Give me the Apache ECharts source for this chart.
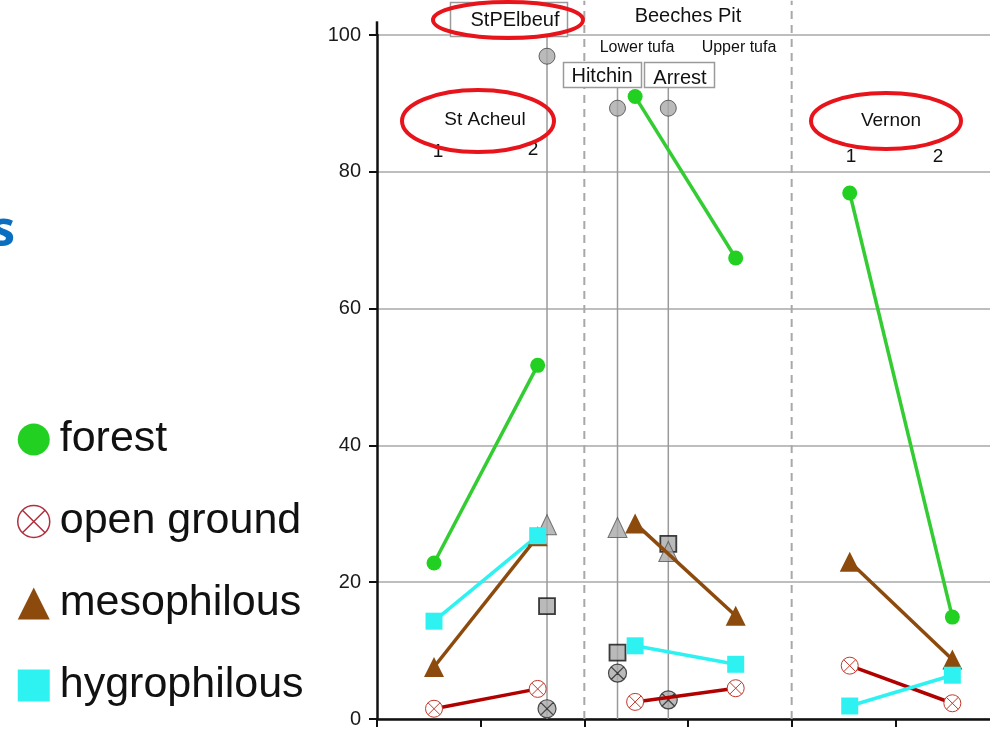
<!DOCTYPE html>
<html><head><meta charset="utf-8">
<script src="https://cdn.jsdelivr.net/npm/echarts@6/dist/echarts.min.js"></script>
<style>html,body{margin:0;padding:0;background:#fff}#c{width:990px;height:730px}</style>
</head><body><div id="c"></div>
<script>
// ---- data ----
const seriesNames = ['forest', 'open ground', 'mesophilous', 'hygrophilous'];
// sample positions: St Acheul 1, 2 | Beeches Pit lower, upper tufa | Vernon 1, 2
const sampleX = [0.55, 1.55, 2.49, 3.46, 4.56, 5.55];
const forest = [22.8, 51.7, 91.0, 67.4, 76.9, 14.9];
const openGround = [1.5, 4.4, 2.5, 4.5, 7.8, 2.3];
const mesophilous = [7.6, 26.7, 28.6, 15.1, 23.0, 8.7];
const hygrophilous = [14.3, 26.8, 10.7, 8.0, 1.9, 6.4];
// comparison sites (grey markers)
const compSites = ['StPElbeuf', 'Hitchin', 'Arrest'];
const compX = [1.64, 2.32, 2.81];
const compTop = [99.7, 92.4, 92.4];
const compForest = [96.9, 89.3, 89.3];
const compOpen = [1.5, 6.7, 2.8];
const compMeso = [28.4, 28.0, 24.5];
const compHygro = [16.5, 9.7, 25.6];
const dividerX = [2, 4];
const siteNames = ['St Acheul', 'Beeches Pit', 'Vernon'];
const subLabels = ['Lower tufa', 'Upper tufa'];
const sampleNums = ['1', '2'];
const titleFragment = 's';

// ---- styles ----
const crossCircle = 'path://M0,-10A10,10,0,1,1,0,10A10,10,0,1,1,0,-10ZM-7.07,-7.07L7.07,7.07M7.07,-7.07L-7.07,7.07';
const FONT = 'Liberation Sans, Arial, sans-serif';
const styles = {
  'forest': { line: '#33cc33', symbol: 'circle', size: 15, item: { color: '#22d022' } },
  'open ground': { line: '#b00000', symbol: crossCircle, size: 17, item: { color: '#ffffff', borderColor: '#c0392b', borderWidth: 1 } },
  'mesophilous': { line: '#8c4a0c', symbol: 'triangle', size: [20, 20], item: { color: '#8c4a0c' } },
  'hygrophilous': { line: '#2ef2f2', symbol: 'rect', size: 17, item: { color: '#2ef2f2' } }
};
const valuesByName = { 'forest': forest, 'open ground': openGround, 'mesophilous': mesophilous, 'hygrophilous': hygrophilous };

const series = [];
// divider dashed lines
dividerX.forEach(x => series.push({
  type: 'line', data: [[x, 0], [x, 105]], symbol: 'none', clip: false, silent: true, z: 1,
  lineStyle: { color: '#a8a8a8', width: 2, type: [8, 6] }
}));
// y axis extension above 100
series.push({ type: 'line', data: [[0, 100], [0, 102]], symbol: 'none', clip: false, silent: true, z: 3,
  lineStyle: { color: '#111', width: 2.5 } });
// comparison site sticks
compX.forEach((x, i) => series.push({
  type: 'line', data: [[x, 0], [x, compTop[i]]], symbol: 'none', clip: false, silent: true, z: 2,
  lineStyle: { color: '#9a9a9a', width: 1.5 }
}));
// comparison grey markers
const grey = '#a9a9a9';
series.push({ type: 'scatter', name: 'cmp forest', z: 4, symbol: 'circle', symbolSize: 16,
  itemStyle: { color: grey, borderColor: '#444', borderWidth: 1 }, data: compX.map((x, i) => [x, compForest[i]]) });
series.push({ type: 'scatter', name: 'cmp open', z: 4, symbol: crossCircle, symbolSize: 18,
  itemStyle: { color: grey, borderColor: '#222', borderWidth: 1.2 }, data: compX.map((x, i) => [x, compOpen[i]]) });
series.push({ type: 'scatter', name: 'cmp hygro', z: 4, symbol: 'rect', symbolSize: 16,
  itemStyle: { color: grey, borderColor: '#111', borderWidth: 1.8 }, data: compX.map((x, i) => [x, compHygro[i]]) });
series.push({ type: 'scatter', name: 'cmp meso', z: 4, symbol: 'triangle', symbolSize: [19, 20],
  itemStyle: { color: grey, borderColor: '#555', borderWidth: 1 }, data: compX.map((x, i) => [x, compMeso[i]]) });
// main series, pairs of samples per site
seriesNames.forEach(name => {
  const s = styles[name], vals = valuesByName[name];
  for (let p = 0; p < 3; p++) {
    series.push({
      type: 'line', name: name, z: 5,
      data: [[sampleX[2 * p], vals[2 * p]], [sampleX[2 * p + 1], vals[2 * p + 1]]],
      symbol: s.symbol, symbolSize: s.size, showSymbol: true,
      lineStyle: { color: s.line, width: 3.5 },
      itemStyle: s.item
    });
  }
});

const chart = echarts.init(document.getElementById('c'), null, { renderer: 'canvas' });

function txt(x, y, text, size, extra) {
  return { type: 'text', x: x, y: y, style: Object.assign({ text: text, fill: '#111', font: size + 'px ' + FONT, align: 'center', verticalAlign: 'middle' }, extra || {}) };
}
function box(x, y, w, h) {
  return { type: 'rect', shape: { x: x, y: y, width: w, height: h }, style: { fill: '#fff', stroke: '#9a9a9a', lineWidth: 1.5 }, z: 10 };
}
function ell(cx, cy, rx, ry) {
  return { type: 'ellipse', shape: { cx: cx, cy: cy, rx: rx, ry: ry }, style: { fill: 'none', stroke: '#e8141b', lineWidth: 4 }, z: 12 };
}

const graphics = [
  box(450.5, 2.5, 117, 34),
  box(563.5, 62.5, 78, 25),
  box(644.5, 62.5, 70, 25),
  Object.assign(txt(515, 20, compSites[0], 20), { z: 11 }),
  Object.assign(txt(602, 76, compSites[1], 20), { z: 11 }),
  Object.assign(txt(680, 78, compSites[2], 20), { z: 11 }),
  txt(688, 16, siteNames[1], 20),
  txt(637, 48, subLabels[0], 16),
  txt(739, 48, subLabels[1], 16),
  txt(485, 120, siteNames[0], 19),
  txt(891, 121, siteNames[2], 19),
  txt(438, 152, sampleNums[0], 19),
  txt(533, 150, sampleNums[1], 19),
  txt(851, 157, sampleNums[0], 19),
  txt(938, 157, sampleNums[1], 19),
  ell(508, 20, 75, 18),
  ell(478, 121, 76, 31),
  ell(886, 121, 75, 28),
  { type: 'text', x: 15, y: 232, style: { text: titleFragment, fill: '#0b6fc1', font: 'bold 50px "Open Sans", sans-serif', align: 'right', verticalAlign: 'middle' } }
];

chart.setOption({
  animation: false,
  backgroundColor: '#fff',
  grid: { left: 377, top: 35, width: 622, height: 684, containLabel: false, outerBoundsMode: 'none' },
  xAxis: {
    type: 'value', min: 0, max: 6, interval: 1,
    axisLine: { show: true, onZero: false, lineStyle: { color: '#111', width: 2.5 } },
    axisTick: { show: true, length: 8, lineStyle: { color: '#111', width: 2 } },
    axisLabel: { show: false }, splitLine: { show: false }
  },
  yAxis: {
    type: 'value', min: 0, max: 100, interval: 20,
    axisLine: { show: true, onZero: false, lineStyle: { color: '#111', width: 2.5 } },
    axisTick: { show: true, length: 8, lineStyle: { color: '#111', width: 2 } },
    axisLabel: { fontSize: 20, color: '#1a1a1a', margin: 16, fontFamily: FONT },
    splitLine: { show: true, lineStyle: { color: '#a8a8a8', width: 1.5 } }
  },
  legend: {
    orient: 'vertical', left: 12, top: 413, itemGap: 39, itemWidth: 32, itemHeight: 32,
    selectedMode: false,
    textStyle: { fontSize: 43, color: '#111', fontFamily: FONT, lineHeight: 42, padding: [0, 0, 0, 5] },
    data: [
      { name: 'forest', icon: 'circle', itemStyle: { color: '#22d022' } },
      { name: 'open ground', icon: crossCircle, itemStyle: { color: '#fff', borderColor: '#b03040', borderWidth: 1.5 } },
      { name: 'mesophilous', icon: 'triangle', itemStyle: { color: '#8c4a0c' } },
      { name: 'hygrophilous', icon: 'rect', itemStyle: { color: '#2ef2f2' } }
    ]
  },
  graphic: graphics,
  series: series
});
</script></body></html>
